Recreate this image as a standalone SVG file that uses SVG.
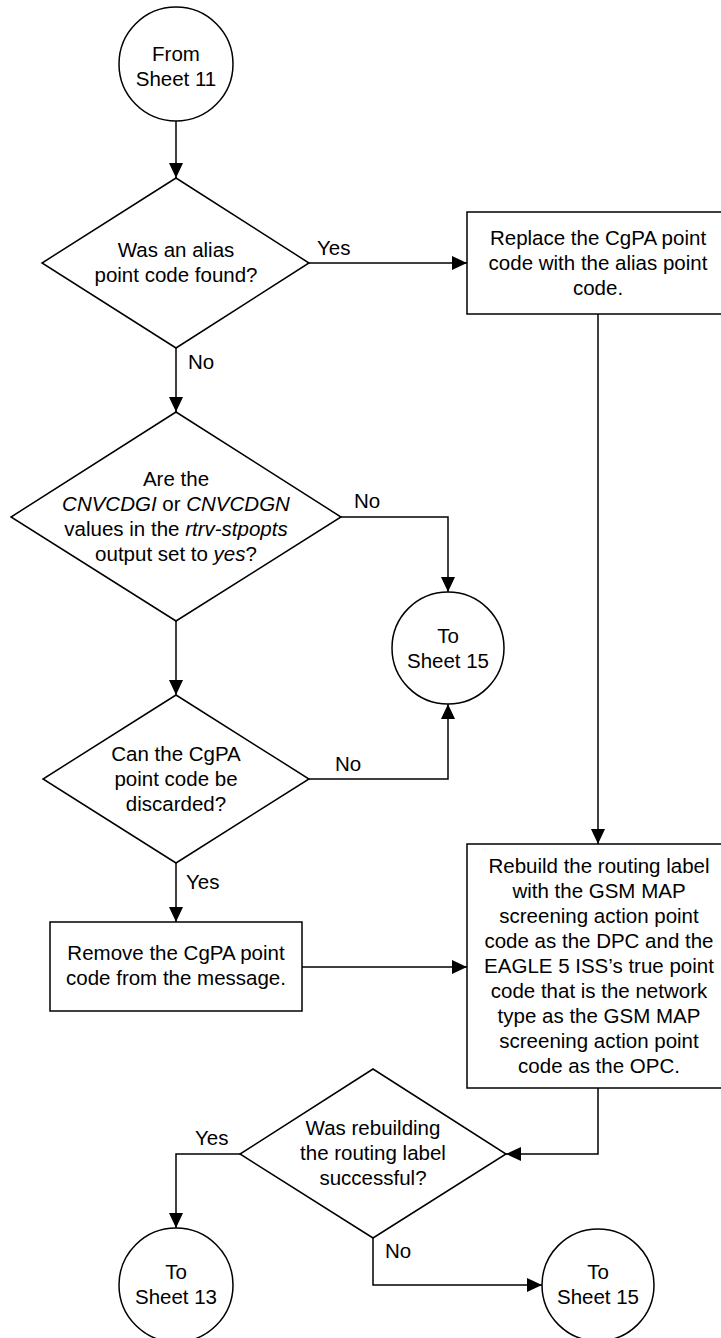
<svg xmlns="http://www.w3.org/2000/svg" width="721" height="1338" viewBox="0 0 721 1338">
<style>
.s{fill:#fff;stroke:#000;stroke-width:1.5}
.c{fill:none;stroke:#000;stroke-width:1.5}
text{font-family:"Liberation Sans",Arial,sans-serif;font-size:20.5px;fill:#000}
.m{text-anchor:middle}
.i{font-style:italic}
</style>
<defs>
<marker id="a" markerUnits="userSpaceOnUse" markerWidth="15" markerHeight="14" refX="15" refY="7" orient="auto">
<path d="M0,0 L15,7 L0,14 z" fill="#000"/>
</marker>
</defs>
<rect width="721" height="1338" fill="#fff"/>
<g id="connectors">
<path class="c" d="M176,121 L176,178" marker-end="url(#a)"/>
<path class="c" d="M309,263 L467,263" marker-end="url(#a)"/>
<path class="c" d="M176,348 L176,412" marker-end="url(#a)"/>
<path class="c" d="M341,517 L448,517 L448,592" marker-end="url(#a)"/>
<path class="c" d="M176,621 L176,695" marker-end="url(#a)"/>
<path class="c" d="M309,779 L448,779 L448,704" marker-end="url(#a)"/>
<path class="c" d="M598,314 L598,844" marker-end="url(#a)"/>
<path class="c" d="M176,863 L176,922" marker-end="url(#a)"/>
<path class="c" d="M302,967 L467,967" marker-end="url(#a)"/>
<path class="c" d="M598,1088 L598,1154 L506,1154" marker-end="url(#a)"/>
<path class="c" d="M240,1154 L176,1154 L176,1228" marker-end="url(#a)"/>
<path class="c" d="M373,1238 L373,1285 L542,1285" marker-end="url(#a)"/>
<text x="317" y="255">Yes</text>
<text x="188" y="369">No</text>
<text x="354" y="508">No</text>
<text x="335" y="771">No</text>
<text x="186" y="889">Yes</text>
<text x="195" y="1145">Yes</text>
<text x="385" y="1258">No</text>
</g>
<g id="from11">
<circle class="s" cx="176" cy="64" r="57"/>
<text class="m" x="176" y="61">From</text>
<text class="m" x="176" y="86">Sheet 11</text>
</g>
<g id="d1">
<polygon class="s" points="176,178 309,263 176,348 42,263"/>
<text class="m" x="176" y="257">Was an alias</text>
<text class="m" x="176" y="282">point code found?</text>
</g>
<g id="box1">
<rect class="s" x="467" y="212" width="263" height="102"/>
<text class="m" x="598" y="245">Replace the CgPA point</text>
<text class="m" x="598" y="270">code with the alias point</text>
<text class="m" x="598" y="295">code.</text>
</g>
<g id="d2">
<polygon class="s" points="176,412 341,517 176,621 11,517"/>
<text class="m" x="176" y="486">Are the</text>
<text class="m" x="176" y="511"><tspan class="i">CNVCDGI</tspan> or <tspan class="i">CNVCDGN</tspan></text>
<text class="m" x="176" y="536">values in the <tspan class="i">rtrv-stpopts</tspan></text>
<text class="m" x="176" y="561">output set to <tspan class="i">yes</tspan>?</text>
</g>
<g id="to15a">
<circle class="s" cx="448" cy="648" r="56"/>
<text class="m" x="448" y="643">To</text>
<text class="m" x="448" y="668">Sheet 15</text>
</g>
<g id="d3">
<polygon class="s" points="176,695 309,779 176,863 43,779"/>
<text class="m" x="176" y="761">Can the CgPA</text>
<text class="m" x="176" y="786">point code be</text>
<text class="m" x="176" y="811">discarded?</text>
</g>
<g id="box3">
<rect class="s" x="50" y="922" width="252" height="89"/>
<text class="m" x="176" y="960">Remove the CgPA point</text>
<text class="m" x="176" y="985">code from the message.</text>
</g>
<g id="box2">
<rect class="s" x="467" y="844" width="263" height="244"/>
<text class="m" x="599" y="873">Rebuild the routing label</text>
<text class="m" x="599" y="898">with the GSM MAP</text>
<text class="m" x="599" y="923">screening action point</text>
<text class="m" x="599" y="948">code as the DPC and the</text>
<text class="m" x="599" y="973">EAGLE 5 ISS’s true point</text>
<text class="m" x="599" y="998">code that is the network</text>
<text class="m" x="599" y="1023">type as the GSM MAP</text>
<text class="m" x="599" y="1048">screening action point</text>
<text class="m" x="599" y="1073">code as the OPC.</text>
</g>
<g id="d4">
<polygon class="s" points="373,1069 506,1154 373,1238 240,1154"/>
<text class="m" x="373" y="1135">Was rebuilding</text>
<text class="m" x="373" y="1160">the routing label</text>
<text class="m" x="373" y="1185">successful?</text>
</g>
<g id="to13">
<circle class="s" cx="176" cy="1285" r="57"/>
<text class="m" x="176" y="1279">To</text>
<text class="m" x="176" y="1304">Sheet 13</text>
</g>
<g id="to15b">
<circle class="s" cx="598" cy="1285" r="56"/>
<text class="m" x="598" y="1279">To</text>
<text class="m" x="598" y="1304">Sheet 15</text>
</g>
</svg>
